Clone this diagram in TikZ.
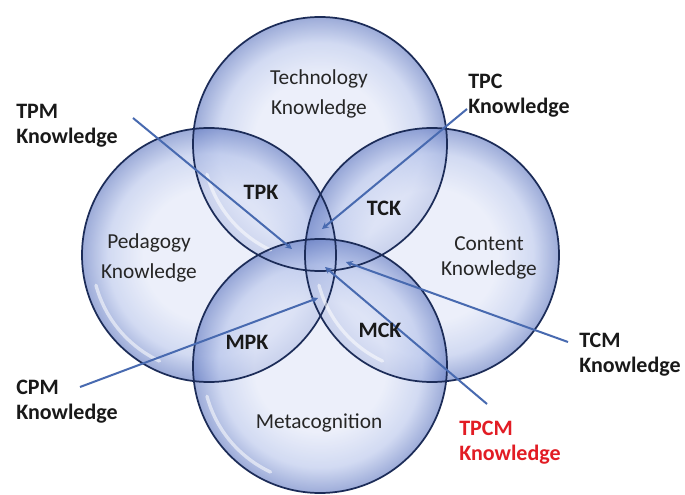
\documentclass[tikz,border=0pt]{standalone}
\usepackage{fontspec}
\setmainfont{Carlito}
\usetikzlibrary{arrows.meta}

\definecolor{bubIn}{RGB}{226,231,248}
\definecolor{bubMid}{RGB}{186,199,236}
\definecolor{bubOut}{RGB}{104,127,196}
\definecolor{rim}{RGB}{28,44,88}
\definecolor{linkblue}{RGB}{72,106,176}
\definecolor{tpcmred}{RGB}{226,28,36}

\pgfdeclareradialshading{bubble}{\pgfpoint{0bp}{0bp}}{color(0bp)=(bubIn); color(13bp)=(bubIn); color(20bp)=(bubMid); color(25bp)=(bubOut); color(50bp)=(bubOut)}

\begin{document}
\begin{tikzpicture}[x=0.75pt, y=-0.75pt,
  sphere/.style={circle, minimum size=190.5pt, inner sep=0pt, shade, shading=bubble, fill opacity=0.65},
  rimline/.style={draw=rim, line width=1.3pt},
  shine/.style={white, line width=2.5pt, opacity=0.55, line cap=round},
  area/.style={font=\fontsize{16}{22.5}\selectfont, align=center, text=black!85},
  overlap/.style={font=\fontsize{16.5}{20}\selectfont\bfseries, text=black!90},
  outer/.style={font=\fontsize{16.5}{18.75}\selectfont\bfseries, align=left, anchor=west, inner sep=0pt, text=black!90},
  link/.style={draw=linkblue, line width=1.5pt, -{Stealth[length=5pt,width=5pt]}}]

\fill[white] (0,0) rectangle (685,495);
\useasboundingbox (0,0) rectangle (685,495);

% The four knowledge spheres
\node[sphere] (tech) at (320,144) {};
\node[sphere] (ped) at (209,255) {};
\node[sphere] (cont) at (432,255) {};
\node[sphere] (meta) at (320,366) {};

\foreach \c in {tech,ped,cont,meta}{
  \draw[rimline] (\c.center) circle (127);
  \draw[shine] (\c.center) ++(115:117) arc[start angle=115, end angle=165, radius=117];
}

% Lines from the outer labels into the middle
\coordinate (tpm-s) at (133,118);  \coordinate (tpm-e) at (292,249);
\coordinate (tpc-s) at (467,109);  \coordinate (tpc-e) at (322,229);
\coordinate (cpm-s) at (80,387);   \coordinate (cpm-e) at (318,298);
\coordinate (tcm-s) at (568,342);  \coordinate (tcm-e) at (346,262);
\coordinate (tpcm-s) at (487,404); \coordinate (tpcm-e) at (325,267);

\foreach \k in {tpm,tpc,cpm,tcm,tpcm}
  \draw[link] (\k-s) -- (\k-e);

% Labels inside the spheres
\node[area] (techtxt) at (319,94) {Technology\\Knowledge};
\node[area] (pedtxt) at (149,258) {Pedagogy\\Knowledge};
\node[area, font=\fontsize{16}{18.5}\selectfont] (conttxt) at (489,258) {Content\\Knowledge};
\node[area] (metatxt) at (319,423) {Metacognition};

\node[overlap] (tpk) at (261,192) {TPK};
\node[overlap] (tck) at (384,208) {TCK};
\node[overlap] (mpk) at (247,342) {MPK};
\node[overlap] (mck) at (380,330) {MCK};

% Outer labels
\node[outer] (tpm) at (16,126) {TPM\\Knowledge};
\node[outer] (tpc) at (468,96) {TPC\\Knowledge};
\node[outer] (cpm) at (16,402) {CPM\\Knowledge};
\node[outer] (tcm) at (579,355) {TCM\\Knowledge};
\node[outer, text=tpcmred] (tpcm) at (459,443) {TPCM\\Knowledge};

\end{tikzpicture}
\end{document}
